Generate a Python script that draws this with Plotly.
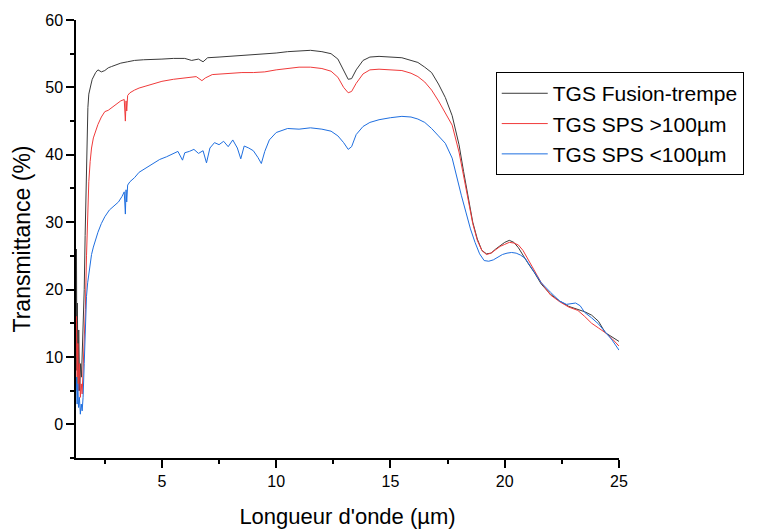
import plotly.graph_objects as go

# ---- data (wavelength in µm, transmittance in %) ----
fusion_x = [1.24,1.26,1.28,1.30,1.33,1.36,1.40,1.44,1.48,1.52,1.56,1.60,1.64,1.68,1.72,1.76,1.80,1.85,1.90,1.95,
            2.0,2.1,2.2,2.35,2.5,2.65,2.8,3.0,3.2,3.5,3.8,4.2,4.6,5.0,5.5,6.0,6.3,6.6,6.8,7.0,
            7.5,8.0,8.5,9.0,9.5,10.0,10.5,11.0,11.5,12.0,12.4,12.7,12.95,13.15,13.3,13.5,13.8,14.1,14.5,15.0,
            15.5,15.9,16.2,16.5,16.8,17.1,17.4,17.7,18.0,18.2,18.4,18.6,18.8,19.0,19.2,19.4,19.6,19.8,20.0,20.2,
            20.4,20.6,20.8,21.0,21.3,21.6,22.0,22.4,22.8,23.2,23.5,23.8,24.1,24.4,24.7,25.0]
fusion_y = [12,26,8,18,6,14,5,9,7,11,13,20,28,36,43,47,49,50,50.5,51.2,
            51.6,52.2,52.6,52.3,52.5,52.9,53.1,53.4,53.6,53.8,54.0,54.1,54.2,54.2,54.3,54.3,54.0,54.2,53.8,54.4,
            54.5,54.6,54.7,54.9,55.0,55.1,55.3,55.4,55.5,55.3,55.0,54.2,52.5,51.2,51.3,52.6,54.0,54.5,54.6,54.5,
            54.4,54.0,53.7,53.0,52.2,50.5,48.5,45.8,41.5,37.5,33.5,30,27.5,25.8,25.3,25.4,26.0,26.5,27.0,27.3,
            27.0,26.2,25.0,24.0,22.5,20.8,19.3,18.3,17.5,17.0,16.7,16.2,15.3,13.6,13.0,12.3]

sps_big_x = [1.24,1.26,1.29,1.32,1.35,1.39,1.43,1.47,1.51,1.55,1.60,1.65,1.70,1.75,1.80,1.86,1.92,2.0,2.1,2.2,
             2.35,2.5,2.65,2.8,3.0,3.2,3.35,3.40,3.43,3.46,3.5,3.6,3.8,4.0,4.3,4.7,5.0,5.5,6.0,6.5,
             6.75,6.9,7.2,7.6,8.0,8.5,9.0,9.5,10.0,10.5,11.0,11.5,12.0,12.4,12.7,12.95,13.15,13.3,13.5,13.8,
             14.1,14.5,15.0,15.5,15.9,16.2,16.5,16.8,17.1,17.4,17.7,18.0,18.2,18.4,18.6,18.8,19.0,19.2,19.4,19.6,
             19.8,20.0,20.2,20.4,20.6,20.8,21.0,21.3,21.6,22.0,22.4,22.8,23.2,23.5,23.8,24.1,24.4,24.7,25.0]
sps_big_y = [10,16,7,12,5,9,4,6,4.5,8,11,17,25,32,36,39,41,42.5,43.6,44.5,
             45.6,46.4,46.6,47.0,47.6,48.0,48.2,45.0,48.0,46.5,48.8,49.2,49.6,49.9,50.2,50.6,50.9,51.2,51.4,51.6,
             51.0,51.4,51.9,52.0,52.1,52.2,52.2,52.3,52.6,52.8,53.0,53.0,52.8,52.4,51.5,50.0,49.2,49.4,50.6,52.0,
             52.6,52.7,52.6,52.5,52.1,51.6,50.8,49.6,48.0,46.3,44.4,40.4,37.0,33.3,29.8,27.3,25.8,25.2,25.4,25.9,
             26.4,26.7,27.0,26.9,26.6,25.8,24.6,22.8,21.0,19.2,18.2,17.4,16.9,16.0,15.0,14.3,13.6,12.7,11.6]

sps_small_x = [1.24,1.26,1.29,1.32,1.35,1.39,1.43,1.47,1.51,1.55,1.60,1.65,1.70,1.75,1.80,1.86,1.92,2.0,2.1,2.2,
               2.35,2.5,2.7,2.9,3.1,3.25,3.35,3.40,3.43,3.46,3.5,3.6,3.8,4.0,4.3,4.6,4.9,5.2,5.5,5.7,
               5.9,6.0,6.2,6.4,6.6,6.8,6.95,7.1,7.3,7.5,7.7,7.9,8.1,8.3,8.45,8.6,8.8,9.0,9.2,9.35,
               9.5,9.7,10.0,10.5,11.0,11.5,12.0,12.4,12.7,12.95,13.15,13.3,13.5,13.8,14.1,14.5,15.0,15.5,15.9,16.2,
               16.5,16.8,17.1,17.4,17.7,17.9,18.1,18.3,18.5,18.7,18.9,19.1,19.3,19.5,19.7,19.9,20.1,20.3,20.5,20.7,
               20.9,21.1,21.3,21.6,22.0,22.4,22.7,22.9,23.1,23.3,23.5,23.8,24.1,24.4,24.7,25.0]
sps_small_y = [5,7,3,6,2.5,4,1.5,3,2,4,9,15,19,21,22.5,24,25.2,26.3,27.5,28.5,
               29.8,30.8,31.8,32.4,33.0,33.8,34.5,31.2,34.8,33.0,35.5,36.0,36.6,37.4,38.0,38.6,39.3,39.7,40.2,40.5,
               39.2,40.3,40.5,40.8,40.2,40.6,38.8,41.0,41.8,41.5,42.0,41.2,42.2,41.0,39.4,41.3,41.0,40.6,39.6,38.7,
               40.5,42.2,43.3,43.9,43.8,44.0,43.8,43.5,42.8,41.8,40.8,41.2,43.0,44.2,44.8,45.2,45.5,45.7,45.6,45.3,
               44.8,43.9,42.8,41.7,39.5,36.6,34.0,31.5,29.0,27.0,25.3,24.3,24.2,24.4,24.8,25.2,25.4,25.5,25.4,25.1,
               24.6,23.6,22.6,21.0,19.6,18.3,17.8,17.9,18.0,17.6,16.6,15.8,14.9,13.7,12.5,11.0]

series_names = ["TGS Fusion-trempe", "TGS SPS >100\u00b5m", "TGS SPS <100\u00b5m"]
series_colors = ["#3a3a3a", "#f03a3a", "#1f6fe0"]

FONT = "Arial, Liberation Sans, sans-serif"

fig = go.Figure()
for name, xs, ys, col in zip(series_names,
                             [fusion_x, sps_big_x, sps_small_x],
                             [fusion_y, sps_big_y, sps_small_y],
                             series_colors):
    fig.add_trace(go.Scatter(x=xs, y=ys, mode="lines", name=name,
                             line=dict(color=col, width=1)))

# the page body has an 8px default margin: the figure is sized to fit the 760x529 window
fig.update_layout(
    width=752, height=521,
    margin=dict(l=68, r=141, t=12, b=71),
    paper_bgcolor="white", plot_bgcolor="white",
    font=dict(family=FONT, color="black", size=16),
    showlegend=True,
    legend=dict(x=0.773, y=0.881, xanchor="left", yanchor="top",
                bgcolor="white", bordercolor="black", borderwidth=1,
                font=dict(family=FONT, size=21, color="black"),
                itemwidth=46, tracegroupgap=0),
    xaxis=dict(range=[1.24, 25], showgrid=False, zeroline=False, automargin=False,
               showline=True, linecolor="black", linewidth=1.5,
               ticks="outside", ticklen=8, tickwidth=1.5, tickcolor="black",
               tick0=0, dtick=5, tickfont=dict(size=16),
               minor=dict(ticks="outside", ticklen=4, tickwidth=1.5, tickcolor="black", dtick=2.5, tick0=0),
               title=dict(text="Longueur d'onde (\u00b5m)", font=dict(size=22), standoff=20)),
    yaxis=dict(range=[-5, 60], showgrid=False, zeroline=False, automargin=False,
               showline=True, linecolor="black", linewidth=1.5,
               ticks="outside", ticklen=8, tickwidth=1.5, tickcolor="black",
               tick0=0, dtick=10, tickfont=dict(size=16),
               minor=dict(ticks="outside", ticklen=4, tickwidth=1.5, tickcolor="black", dtick=5, tick0=0),
               title=dict(text="Transmittance (%)", font=dict(size=23), standoff=8)),
)

fig.write_html("out.html")
